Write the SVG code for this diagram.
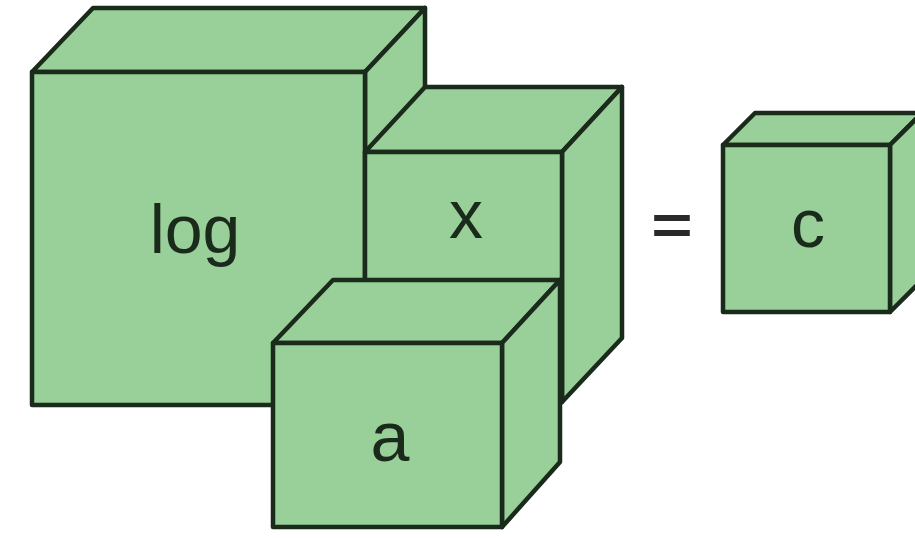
<svg xmlns="http://www.w3.org/2000/svg" width="915" height="538" viewBox="0 0 915 538">
<style>
.f{fill:#99cf99;stroke:#1b2b1b;stroke-width:4.5;stroke-linejoin:round}
.t{font-family:"Liberation Sans",Arial,sans-serif;fill:#1b2b1b;text-anchor:middle}
</style>
<rect width="915" height="538" fill="#ffffff"/>
<g id="cube-log">
<polygon class="f" points="32,72 93,8 425,8 365,72"/>
<polygon class="f" points="365,72 425,8 425,341 365,405"/>
<rect class="f" x="32" y="72" width="333" height="333"/>
<text class="t" x="195" y="253" font-size="68">log</text>
</g>
<g id="cube-x">
<polygon class="f" points="365,152 425,87 622,87 562,152"/>
<polygon class="f" points="562,152 622,87 622,338 562,402"/>
<rect class="f" x="365" y="152" width="197" height="250"/>
<text class="t" x="466" y="238" font-size="68">x</text>
</g>
<g id="cube-a">
<polygon class="f" points="273,343 333,280 560,280 502,343"/>
<polygon class="f" points="502,343 560,280 560,462 502,527"/>
<rect class="f" x="273" y="343" width="229" height="184"/>
<text class="t" x="390" y="461" font-size="70">a</text>
</g>
<g id="equals">
<text class="t" transform="translate(672,243.5) scale(1,0.79)" x="0" y="0" font-size="71" font-weight="bold" style="fill:#2a2a2a">=</text>
</g>
<g id="cube-c">
<polygon class="f" points="723,145 755,113 922,113 890,145"/>
<polygon class="f" points="890,145 922,113 922,280 890,312"/>
<rect class="f" x="723" y="145" width="167" height="167"/>
<text class="t" x="808" y="247" font-size="68">c</text>
</g>
<g id="connectors"></g>
</svg>
